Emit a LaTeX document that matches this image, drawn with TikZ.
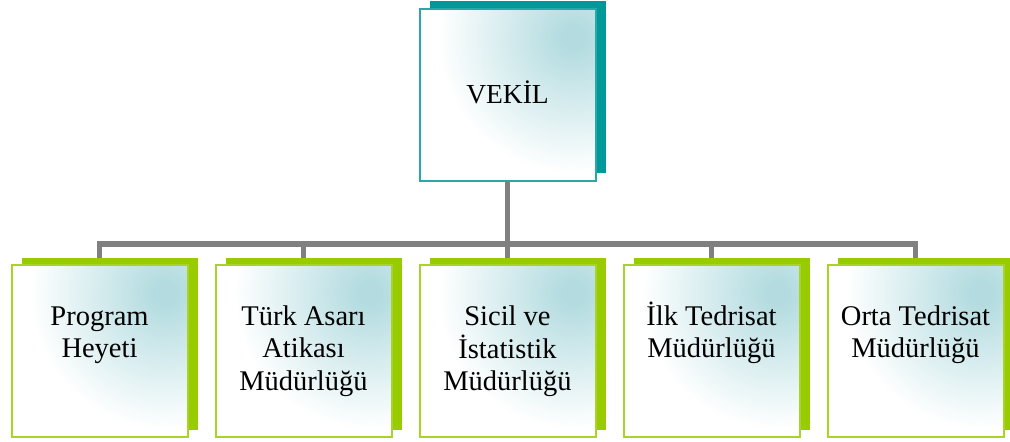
\documentclass[tikz,border=0pt]{standalone}
\usepackage{fontspec}
\setmainfont{Liberation Serif}
\usetikzlibrary{shadows}
\pgfdeclarelayer{background}
\pgfsetlayers{background,main}
\definecolor{tealdark}{HTML}{009999}
\definecolor{tealborder}{HTML}{2AA8A8}
\definecolor{limedark}{HTML}{99CC00}
\definecolor{limeborder}{HTML}{A8D42A}
\definecolor{tealpale}{HTML}{B4DCE0}
\definecolor{conngray}{HTML}{808080}
\pgfdeclareradialshading{glow}{\pgfpointorigin}{%
  color(0bp)=(tealpale); color(12bp)=(tealpale); color(135bp)=(white); color(140bp)=(white)}
\tikzset{
  x=1pt, y=-1pt,
  card/.style={rectangle, minimum width=176pt, minimum height=172pt, inner sep=0pt,
    line width=2pt, fill=white,
    path picture={\path ([xshift=-22pt,yshift=-28pt]path picture bounding box.north east)
      node[inner sep=0pt]{\pgfuseshading{glow}};}},
  topcard/.style={card, draw=tealborder,
    general shadow={shadow xshift=10pt, shadow yshift=8.5pt, fill=tealdark, draw=none}},
  subcard/.style={card, draw=limeborder,
    general shadow={shadow xshift=10pt, shadow yshift=7pt, fill=limedark, draw=none}},
  label/.style={anchor=base, inner sep=0pt, font=\fontsize{28.5}{32.5}\selectfont},
  toplabel/.style={label, font=\fontsize{27.5}{32.5}\selectfont},
  conn/.style={draw=conngray, line width=5.5pt}
}
\newcommand{\lines}[1]{\begin{tabular}[t]{@{}c@{}}#1\end{tabular}}
\begin{document}
\begin{tikzpicture}
\useasboundingbox (0,0) rectangle (1010,442);
\node[topcard] (top) at (507.5,95) {};
\node[toplabel] (toplabel) at (507.5,103) {VEKİL};
\foreach \i/\x/\t in {1/99.5/{Program\\Heyeti},
                      2/303.5/{Türk Asarı\\Atikası\\Müdürlüğü},
                      3/507.5/{Sicil ve\\İstatistik\\Müdürlüğü},
                      4/711.5/{İlk Tedrisat\\Müdürlüğü},
                      5/915.5/{Orta Tedrisat\\Müdürlüğü}}{
  \node[subcard] (b\i) at (\x,351) {};
  \node[label] (l\i) at (\x,325) {\lines{\t}};
}
\coordinate (bus) at (507.5,244);
\begin{pgfonlayer}{background}
  \draw[conn] (top.south) -- (bus);
  \foreach \i in {1,...,5}{ \draw[conn] (bus) -| (b\i.north); }
\end{pgfonlayer}
\end{tikzpicture}
\end{document}
